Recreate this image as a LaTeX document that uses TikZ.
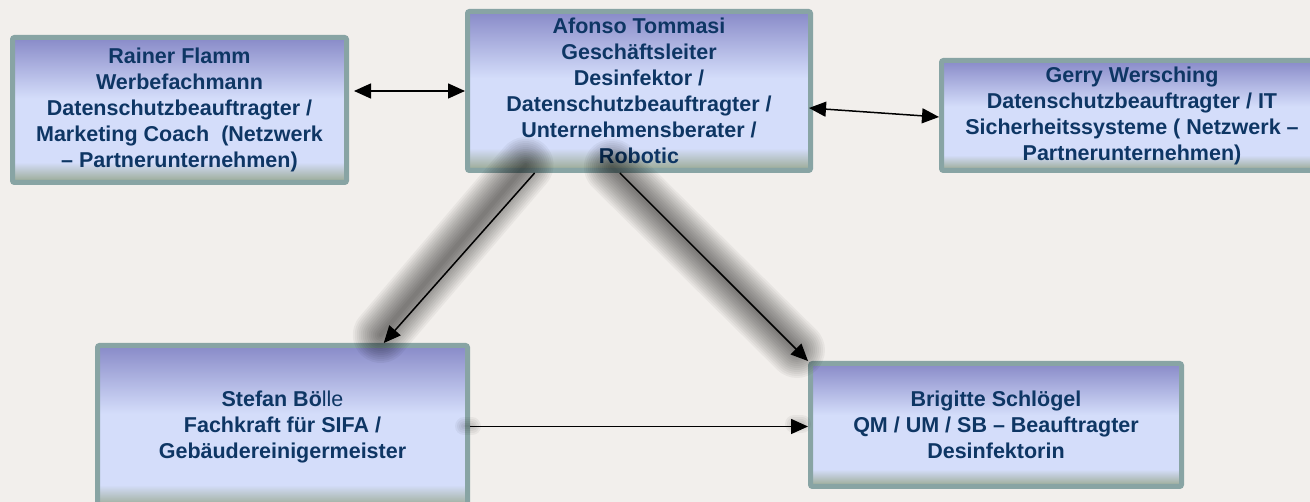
\documentclass[tikz,border=0pt]{standalone}
\usepackage{fontspec}
\setmainfont{Liberation Sans}
\usetikzlibrary{arrows.meta,calc}
\definecolor{pbTop}{RGB}{136,138,200}
\definecolor{pbLight}{RGB}{212,221,250}
\definecolor{pbBot}{RGB}{152,168,144}
\definecolor{pbBorder}{RGB}{136,164,164}
\definecolor{pbText}{RGB}{14,54,100}
\definecolor{pbBack}{RGB}{242,239,236}
\pgfdeclareverticalshading{pboxshade}{100bp}{color(0bp)=(pbBot); color(25bp)=(pbBot); color(32bp)=(pbLight); color(54bp)=(pbLight); color(75bp)=(pbTop); color(100bp)=(pbTop)}
\begin{document}
\begin{tikzpicture}[x=1pt,y=-1pt,
  pbox/.style={draw=pbBorder, line width=5pt, rounded corners=2pt, shading=pboxshade,
    text=pbText, font=\fontsize{21.5}{26}\selectfont\bfseries, align=center, inner sep=0pt},
  link/.style={line width=1.5pt, -{Triangle[length=17pt,width=15pt]}},
  twoway/.style={line width=1.5pt, {Triangle[length=17pt,width=15pt]}-{Triangle[length=17pt,width=15pt]}},
  blur/.style={line cap=round, black, opacity=0.045}]
\useasboundingbox (0,0) rectangle (1310,502);
\clip (0,0) rectangle (1310,502);
\fill[pbBack] (0,0) rectangle (1310,502);

% top row
\node[pbox, minimum width=334, minimum height=145] (R) at (179.5,110)
  {Rainer Flamm\\Werbefachmann\\Datenschutzbeauftragter /\\Marketing Coach~ (Netzwerk\\– Partnerunternehmen)};
\node[pbox, minimum width=343, minimum height=159] (A) at (639,91)
  {Afonso Tommasi\\Geschäftsleiter\\Desinfektor /\\Datenschutzbeauftragter /\\Unternehmensberater /\\Robotic};
\node[pbox, minimum width=381, minimum height=110] (G) at (1132,115.5)
  {Gerry Wersching\\Datenschutzbeauftragter / IT\\Sicherheitssysteme ( Netzwerk –\\Partnerunternehmen)};

% bottom row
\node[pbox, minimum width=370, minimum height=162] (S) at (282.5,426.5)
  {Stefan Bö{\mdseries lle}\\Fachkraft für SIFA /\\Gebäudereinigermeister};
\node[pbox, minimum width=371, minimum height=123] (B) at (996,425)
  {Brigitte Schlögel\\QM / UM / SB – Beauftragter\\Desinfektorin};

%------------------------------------------------

\coordinate (a1) at ($(A.south west)!0.2!(A.south east)$);
\coordinate (a2) at ($(A.south west)!0.445!(A.south east)$);
\coordinate (s1) at ($(S.north west)!0.77!(S.north east)$);

% shadows
\foreach \w in {56,52,...,4}{
  \draw[blur, line width=\w pt] ($(a1)+(-9,-8)$) -- ($(s1)+(-3,-8)$);
  \draw[blur, line width=\w pt] ($(a2)+(-8,-6)$) -- ($(B.north west)+(-11,-11)$);
}
\foreach \w in {18,14,...,2}{
  \draw[blur, line width=\w pt] ($(S.east)+(-6,0)$) -- ($(S.east)+(2,0)$);
  \draw[blur, line width=\w pt] ($(B.west)+(-14,-1)$) -- ($(B.west)+(-6,-1)$);
}

% connectors
\draw[twoway] ([xshift=5pt]R.east |- A.west) -- (A.west);
\draw[twoway] ([xshift=-4pt,yshift=-17pt]A.east) -- ([yshift=-1.5pt]G.west);
\draw[link] (a1) -- (s1);
\draw[link] (a2) -- (B.north west);
\draw[link] (S.east) -- (S.east -| B.west);
\end{tikzpicture}
\end{document}
